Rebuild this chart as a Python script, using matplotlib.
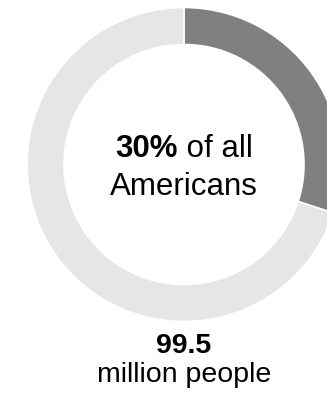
import matplotlib
matplotlib.use("Agg")
import matplotlib.pyplot as plt

# Share of all Americans
labels = ["Group", "Rest"]
shares = [30, 70]
colors = ["#808080", "#e6e6e6"]
headline_pct = "30%"
headline_rest = " of all"
headline_line2 = "Americans"
count_value = "99.5"
count_unit = "million people"

plt.rcParams["font.family"] = ["Liberation Sans", "DejaVu Sans"]

W, H = 327, 397
fig = plt.figure(figsize=(W / 100, H / 100), dpi=100)
ax = fig.add_axes([0, 0, 1, 1])

cx, cy, r_out, ring = 184, H - 164.5, 157, 37
ax.pie(shares, colors=colors, startangle=90, counterclock=False,
       center=(cx, cy), radius=r_out, frame=True,
       wedgeprops=dict(width=ring, edgecolor="white", linewidth=1.2))
ax.set_xlim(0, W)
ax.set_ylim(0, H)
ax.set_aspect("equal")
ax.axis("off")

fs_center = 22.5
fs_bottom = 20.5
ink = "#000000"

# first line: bold percentage + regular text, centred as a whole
t1 = ax.text(0, H - 157, headline_pct, fontsize=fs_center, fontweight="bold",
             ha="left", va="baseline", color=ink)
t2 = ax.text(0, H - 157, headline_rest, fontsize=fs_center,
             ha="left", va="baseline", color=ink)
fig.canvas.draw()
r = fig.canvas.get_renderer()
w1 = t1.get_window_extent(r).width
w2 = t2.get_window_extent(r).width
x0 = cx - (w1 + w2) / 2
t1.set_x(x0)
t2.set_x(x0 + w1)

ax.text(cx, H - 195, headline_line2, fontsize=fs_center, ha="center",
        va="baseline", color=ink)

ax.text(cx, H - 353, count_value, fontsize=fs_bottom, fontweight="bold",
        ha="center", va="baseline", color=ink)
ax.text(cx, H - 382, count_unit, fontsize=fs_bottom, ha="center",
        va="baseline", color=ink)

fig.savefig("out.png", dpi=100)
